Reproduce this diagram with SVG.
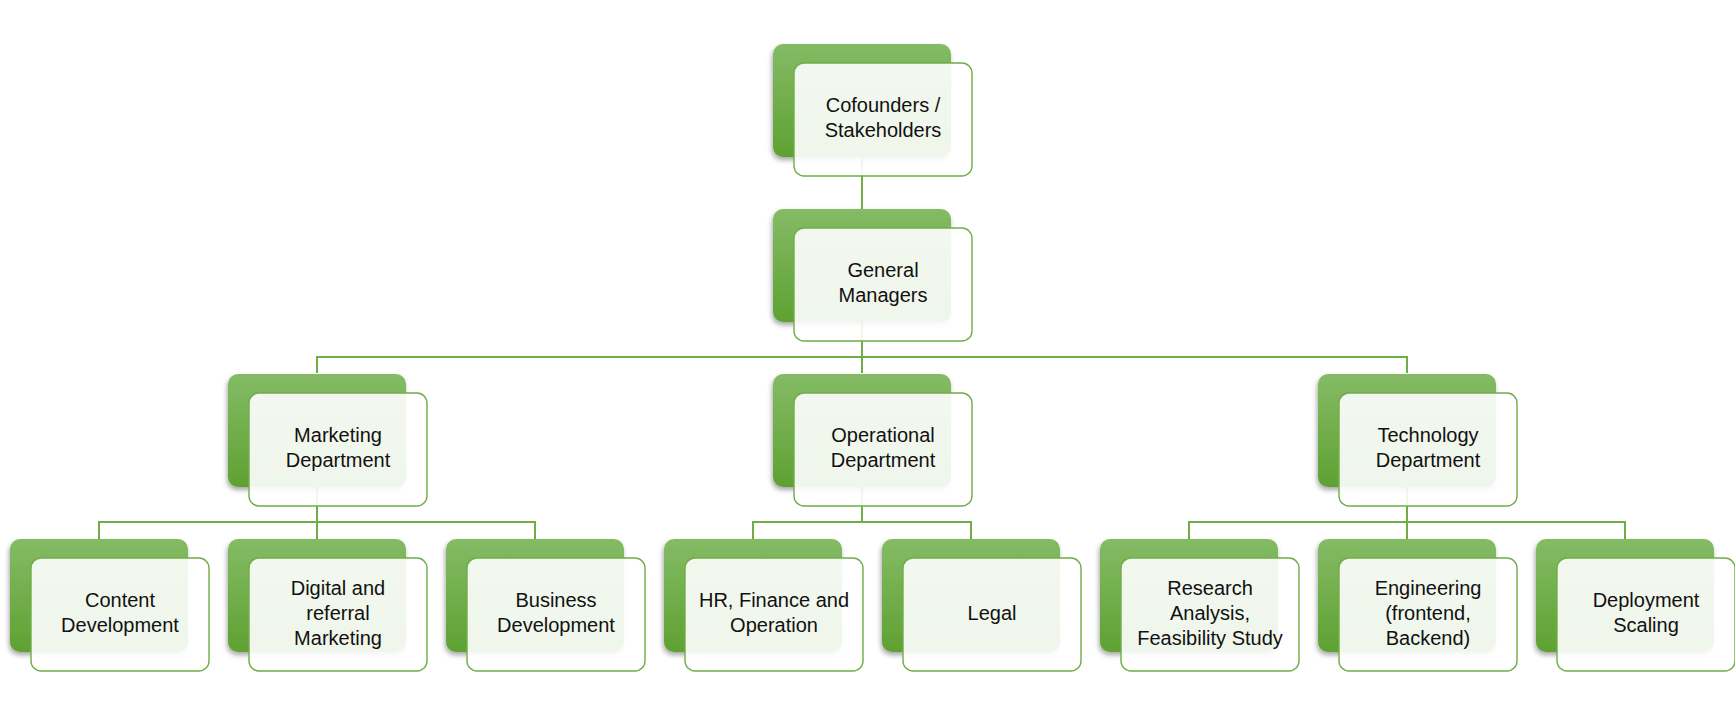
<svg xmlns="http://www.w3.org/2000/svg" width="1735" height="714" viewBox="0 0 1735 714">
  <defs>
    <linearGradient id="gGreen" x1="0" y1="0" x2="0" y2="1">
      <stop offset="0" stop-color="#84bb65"/>
      <stop offset="1" stop-color="#5fa132"/>
    </linearGradient>
    <filter id="shadow" x="-10%" y="-10%" width="125%" height="130%">
      <feDropShadow dx="-1" dy="3" stdDeviation="2.5" flood-color="#000" flood-opacity="0.35"/>
    </filter>
    <style>
      .back { fill: url(#gGreen); filter: url(#shadow); }
      .front { fill: #ffffff; fill-opacity: 0.9; stroke: #70ad47; stroke-width: 1.4; }
      .conn { fill: none; stroke: #70ad47; stroke-width: 2; }
      .lbl { font-family: "Liberation Sans", Arial, sans-serif; font-size: 20px; fill: #111111; text-anchor: middle; }
    </style>
  </defs>
  <rect width="1735" height="714" fill="#ffffff"/>

  <g id="connectors">
    <path class="conn" d="M862 157 V209"/>
    <path class="conn" d="M862 322 V357 M317 373 V357 H1407 V373 M862 357 V373"/>
    <path class="conn" d="M317 487 V522 M99 539 V522 H535 V539 M317 522 V539"/>
    <path class="conn" d="M862 487 V522 M753 539 V522 H971 V539"/>
    <path class="conn" d="M1407 487 V522 M1189 539 V522 H1625 V539 M1407 522 V539"/>
  </g>

  <g id="cofounders" transform="translate(773,44)">
    <rect class="back" x="0" y="0" width="178" height="113" rx="10"/>
    <rect class="front" x="21" y="19" width="178" height="113" rx="10"/>
    <text class="lbl" x="110" y="68">Cofounders /</text>
    <text class="lbl" x="110" y="93">Stakeholders</text>
  </g>

  <g id="general-managers" transform="translate(773,209)">
    <rect class="back" x="0" y="0" width="178" height="113" rx="10"/>
    <rect class="front" x="21" y="19" width="178" height="113" rx="10"/>
    <text class="lbl" x="110" y="68">General</text>
    <text class="lbl" x="110" y="93">Managers</text>
  </g>

  <g id="marketing" transform="translate(228,374)">
    <rect class="back" x="0" y="0" width="178" height="113" rx="10"/>
    <rect class="front" x="21" y="19" width="178" height="113" rx="10"/>
    <text class="lbl" x="110" y="68">Marketing</text>
    <text class="lbl" x="110" y="93">Department</text>
  </g>

  <g id="operational" transform="translate(773,374)">
    <rect class="back" x="0" y="0" width="178" height="113" rx="10"/>
    <rect class="front" x="21" y="19" width="178" height="113" rx="10"/>
    <text class="lbl" x="110" y="68">Operational</text>
    <text class="lbl" x="110" y="93">Department</text>
  </g>

  <g id="technology" transform="translate(1318,374)">
    <rect class="back" x="0" y="0" width="178" height="113" rx="10"/>
    <rect class="front" x="21" y="19" width="178" height="113" rx="10"/>
    <text class="lbl" x="110" y="68">Technology</text>
    <text class="lbl" x="110" y="93">Department</text>
  </g>

  <g id="content-development" transform="translate(10,539)">
    <rect class="back" x="0" y="0" width="178" height="113" rx="10"/>
    <rect class="front" x="21" y="19" width="178" height="113" rx="10"/>
    <text class="lbl" x="110" y="68">Content</text>
    <text class="lbl" x="110" y="93">Development</text>
  </g>

  <g id="digital-marketing" transform="translate(228,539)">
    <rect class="back" x="0" y="0" width="178" height="113" rx="10"/>
    <rect class="front" x="21" y="19" width="178" height="113" rx="10"/>
    <text class="lbl" x="110" y="56">Digital and</text>
    <text class="lbl" x="110" y="81">referral</text>
    <text class="lbl" x="110" y="106">Marketing</text>
  </g>

  <g id="business-development" transform="translate(446,539)">
    <rect class="back" x="0" y="0" width="178" height="113" rx="10"/>
    <rect class="front" x="21" y="19" width="178" height="113" rx="10"/>
    <text class="lbl" x="110" y="68">Business</text>
    <text class="lbl" x="110" y="93">Development</text>
  </g>

  <g id="hr-finance" transform="translate(664,539)">
    <rect class="back" x="0" y="0" width="178" height="113" rx="10"/>
    <rect class="front" x="21" y="19" width="178" height="113" rx="10"/>
    <text class="lbl" x="110" y="68">HR, Finance and</text>
    <text class="lbl" x="110" y="93">Operation</text>
  </g>

  <g id="legal" transform="translate(882,539)">
    <rect class="back" x="0" y="0" width="178" height="113" rx="10"/>
    <rect class="front" x="21" y="19" width="178" height="113" rx="10"/>
    <text class="lbl" x="110" y="81">Legal</text>
  </g>

  <g id="research" transform="translate(1100,539)">
    <rect class="back" x="0" y="0" width="178" height="113" rx="10"/>
    <rect class="front" x="21" y="19" width="178" height="113" rx="10"/>
    <text class="lbl" x="110" y="56">Research</text>
    <text class="lbl" x="110" y="81">Analysis,</text>
    <text class="lbl" x="110" y="106">Feasibility Study</text>
  </g>

  <g id="engineering" transform="translate(1318,539)">
    <rect class="back" x="0" y="0" width="178" height="113" rx="10"/>
    <rect class="front" x="21" y="19" width="178" height="113" rx="10"/>
    <text class="lbl" x="110" y="56">Engineering</text>
    <text class="lbl" x="110" y="81">(frontend,</text>
    <text class="lbl" x="110" y="106">Backend)</text>
  </g>

  <g id="deployment" transform="translate(1536,539)">
    <rect class="back" x="0" y="0" width="178" height="113" rx="10"/>
    <rect class="front" x="21" y="19" width="178" height="113" rx="10"/>
    <text class="lbl" x="110" y="68">Deployment</text>
    <text class="lbl" x="110" y="93">Scaling</text>
  </g>
</svg>
